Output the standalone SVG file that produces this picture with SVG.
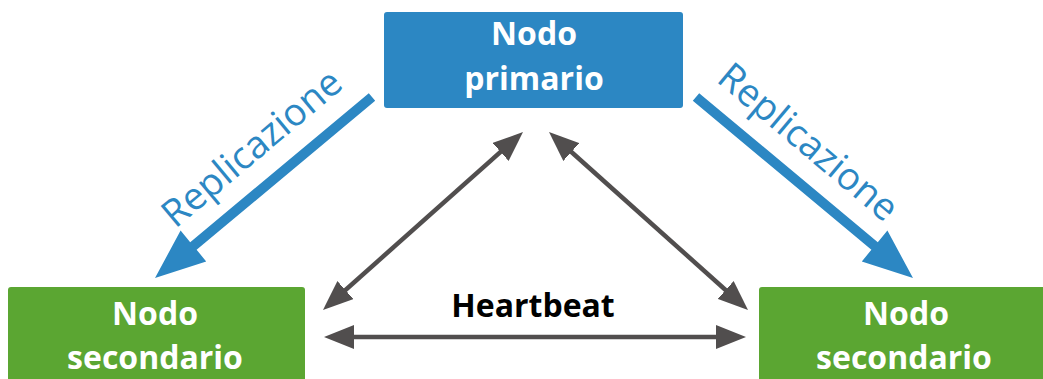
<svg xmlns="http://www.w3.org/2000/svg" width="1043" height="379" viewBox="0 0 1043 379">
  <style>
    .node-blue { fill: #2c87c3; }
    .node-green { fill: #5ba632; }
    .ntext { font-family: "Open Sans", "Liberation Sans", sans-serif; font-weight: 700; font-size: 32px; fill: #ffffff; text-anchor: middle; }
    .rep { font-family: "Open Sans", "Liberation Sans", sans-serif; font-weight: 400; font-size: 38px; fill: #2c87c3; text-anchor: middle; }
    .hb { font-family: "Open Sans", "Liberation Sans", sans-serif; font-weight: 700; font-size: 32px; fill: #000000; text-anchor: middle; }
    .blue-arrow { fill: #2c87c3; }
    .hb-line { stroke: #514e4e; stroke-width: 4.5; fill: none; marker-start: url(#hbHead); marker-end: url(#hbHead); }
  </style>
  <defs>
    <marker id="hbHead" viewBox="0 0 30 24" refX="19" refY="12" markerWidth="30" markerHeight="24" markerUnits="userSpaceOnUse" orient="auto-start-reverse">
      <path d="M0,0 L30,12 L0,24 z" fill="#514e4e"/>
    </marker>
  </defs>

  <g id="connectors">
    <polygon class="blue-arrow" points="368.8,93.2 190.2,242.2 180.6,230.6 155,278 206.2,261.4 196.6,249.8 375.2,100.8"/>
    <polygon class="blue-arrow" points="699.2,93.2 877.8,242.2 887.4,230.6 913,278 861.8,261.4 871.4,249.8 692.8,100.8"/>
    <text class="rep" transform="translate(260,158) rotate(-40)">Replicazione</text>
    <text class="rep" transform="translate(800,152) rotate(40)">Replicazione</text>
    <line class="hb-line" x1="331.2" y1="302.7" x2="514.8" y2="139.3"/>
    <line class="hb-line" x1="557.2" y1="139.3" x2="739.8" y2="302.7"/>
    <line class="hb-line" x1="335" y1="337" x2="735" y2="337"/>
    <text class="hb" x="533" y="317">Heartbeat</text>
  </g>

  <g id="node-primary">
    <rect class="node-blue" x="384" y="12" width="299" height="96" rx="3"/>
    <text class="ntext" x="534" y="45">Nodo</text>
    <text class="ntext" x="534" y="90">primario</text>
  </g>

  <g id="node-secondary-left">
    <rect class="node-green" x="8" y="287" width="297" height="100" rx="3"/>
    <text class="ntext" x="155" y="325">Nodo</text>
    <text class="ntext" x="155" y="369">secondario</text>
  </g>

  <g id="node-secondary-right">
    <rect class="node-green" x="759" y="287" width="300" height="100" rx="3"/>
    <text class="ntext" x="906" y="325">Nodo</text>
    <text class="ntext" x="904" y="369">secondario</text>
  </g>
</svg>
